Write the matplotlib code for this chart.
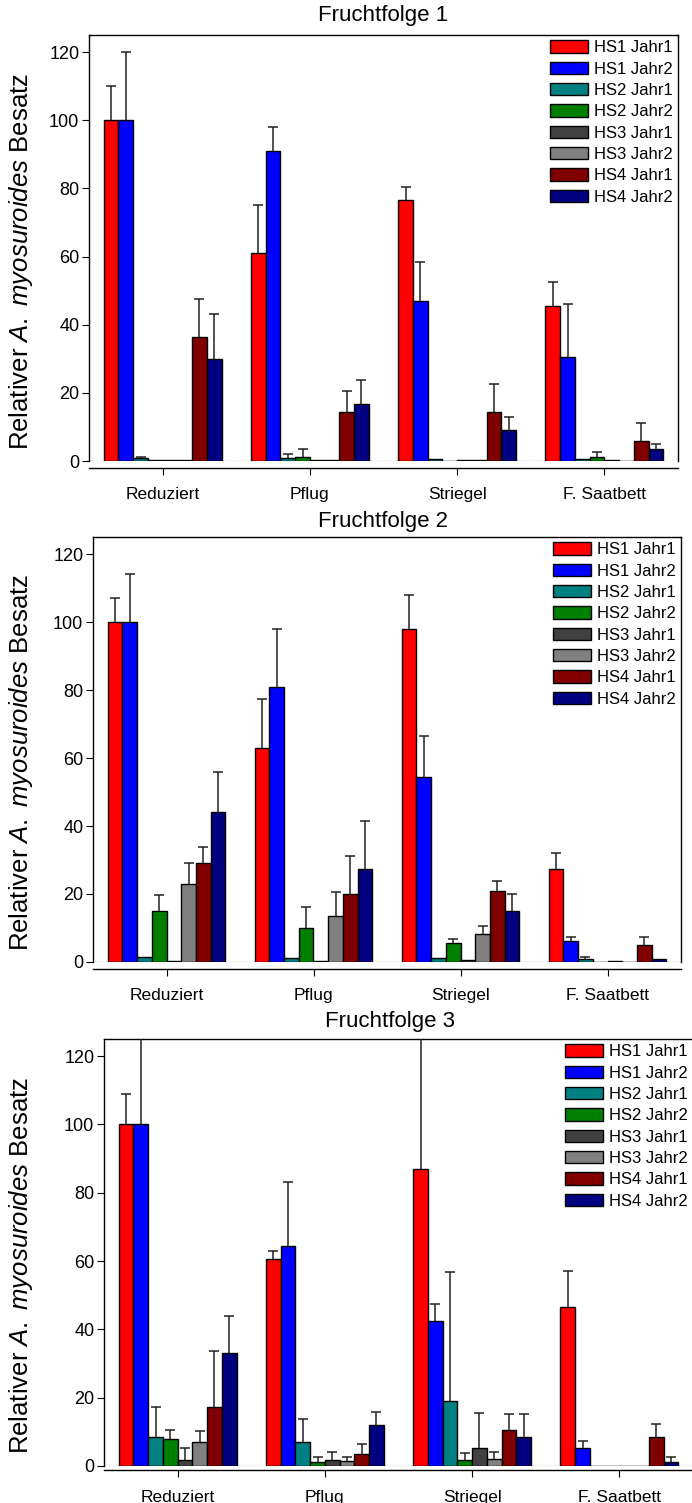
import matplotlib

matplotlib.use("Agg")

import matplotlib.pyplot as plt
import numpy as np

plt.rcParams["font.family"] = ["Liberation Sans", "DejaVu Sans"]
plt.rcParams["mathtext.fontset"] = "custom"
plt.rcParams["mathtext.rm"] = "Liberation Sans"
plt.rcParams["mathtext.it"] = "Liberation Sans:italic"

groups = ["Reduziert", "Pflug", "Striegel", "F. Saatbett"]
series = ["HS1 Jahr1", "HS1 Jahr2", "HS2 Jahr1", "HS2 Jahr2",
          "HS3 Jahr1", "HS3 Jahr2", "HS4 Jahr1", "HS4 Jahr2"]
colors = ["#ff0000", "#0000ff", "#008080", "#008000",
          "#404040", "#808080", "#800000", "#000080"]
titles = ["Fruchtfolge 1", "Fruchtfolge 2", "Fruchtfolge 3"]

# mean values, one row per series, columns follow groups
ff1_mean = [
    [100, 61, 76.5, 45.5],
    [100, 91, 47, 30.5],
    [0.9, 1.0, 0.5, 0.6],
    [0.3, 1.2, 0, 1.1],
    [0.2, 0.2, 0.4, 0.3],
    [0.2, 0.3, 0.2, 0],
    [36.5, 14.5, 14.3, 6.0],
    [30, 16.6, 9.1, 3.5],
]
ff1_err = [
    [10, 14, 4, 7],
    [20, 7, 11.5, 15.5],
    [0.4, 1.1, 0, 0],
    [0, 2.2, 0, 1.4],
    [0, 0, 0, 0],
    [0, 0, 0, 0],
    [11, 6.1, 8.2, 5.1],
    [13, 7.2, 3.7, 1.6],
]
ff2_mean = [
    [100, 63, 98, 27.5],
    [100, 81, 54.5, 6.2],
    [1.4, 1.1, 1.3, 1.0],
    [15.1, 10.0, 5.5, 0],
    [0.3, 0.2, 0.6, 0.2],
    [23, 13.6, 8.2, 0],
    [29.1, 20.1, 21.0, 4.9],
    [44.2, 27.4, 14.9, 1.0],
]
ff2_err = [
    [7, 14.5, 10, 4.5],
    [14, 17, 12, 1.3],
    [0, 0, 0, 0.6],
    [4.7, 6.3, 1.4, 0],
    [0, 0, 0, 0],
    [6.1, 7.0, 2.3, 0],
    [4.7, 11.1, 2.8, 2.5],
    [11.8, 14.1, 5.2, 0],
]
ff3_mean = [
    [100, 60.5, 87, 46.5],
    [100, 64.5, 42.5, 5.2],
    [8.6, 7.0, 19.1, 0],
    [8.0, 1.1, 1.8, 0],
    [1.8, 1.8, 5.2, 0],
    [7.0, 1.4, 2.1, 0],
    [17.2, 3.4, 10.4, 8.6],
    [33.2, 11.9, 8.6, 1.2],
]
ff3_err = [
    [9, 2.5, 43, 10.5],
    [35, 18.5, 5, 2.0],
    [8.6, 6.9, 37.7, 0],
    [2.4, 1.4, 1.9, 0],
    [3.4, 2.4, 10.2, 0],
    [3.1, 1.3, 1.9, 0],
    [16.6, 2.9, 4.8, 3.6],
    [10.8, 4.0, 6.6, 1.4],
]

W, H = 692, 1503
fig = plt.figure(figsize=(W / 100, H / 100), dpi=100)
fig.patch.set_facecolor("white")

# panel boxes in pixels: left, right, top, bottom, x-axis offset
boxes = [(89, 678, 35, 461, 5), (93, 681, 537, 962, 5), (104, 693, 1039, 1466, 3)]
title_pos = [(383, 16), (383, 521), (390, 1021)]
panels = [(ff1_mean, ff1_err), (ff2_mean, ff2_err), (ff3_mean, ff3_err)]

x = np.arange(len(groups))
width = 0.1

for i, ((mean, err), (l, r, t, b, off)) in enumerate(zip(panels, boxes)):
    ax = fig.add_axes([l / W, 1 - b / H, (r - l) / W, (b - t) / H])
    for j, (lab, col) in enumerate(zip(series, colors)):
        xs = x + (j - 3.5) * width
        ax.bar(xs, mean[j], width, color=col, edgecolor="black",
               linewidth=1.0, label=lab, zorder=2)
        m = np.array(mean[j], dtype=float)
        up = np.array(err[j], dtype=float)
        keep = up > 0
        if keep.any():
            ax.vlines(xs[keep], m[keep], m[keep] + up[keep], color="#222222",
                      linewidth=1.1, zorder=3)
            ax.hlines(m[keep] + up[keep], xs[keep] - 0.034, xs[keep] + 0.034,
                      color="#222222", linewidth=1.1, zorder=3)

    ax.axhline(0, color="black", linewidth=0.8, zorder=1)
    ax.set_xlim(-0.5, 3.5)
    ax.set_ylim(0, 125)
    ax.set_yticks(range(0, 121, 20))
    ax.set_xticks(x)
    ax.set_xticklabels(groups)
    ax.spines["bottom"].set_position(("outward", off))
    for s in ax.spines.values():
        s.set_linewidth(1.0)
    ax.tick_params(axis="y", direction="out", length=5, pad=2, labelsize=13)
    ax.tick_params(axis="x", direction="out", length=5, pad=9, labelsize=12.5)

    ax.legend(loc="upper right", frameon=False, fontsize=12,
              handlelength=2.3, handleheight=0.75, handletextpad=0.35,
              labelspacing=0.38, borderaxespad=0.12, borderpad=0.2)

    fig.text(title_pos[i][0] / W, 1 - title_pos[i][1] / H, titles[i],
             ha="center", va="center", fontsize=16)
    fig.text(21 / W, 1 - ((t + b) / 2 + 13) / H,
             r"Relativer $\mathit{A.\ myosuroides}$ Besatz",
             rotation=90, ha="center", va="center", fontsize=18.5)

fig.savefig("out.png", dpi=100)
